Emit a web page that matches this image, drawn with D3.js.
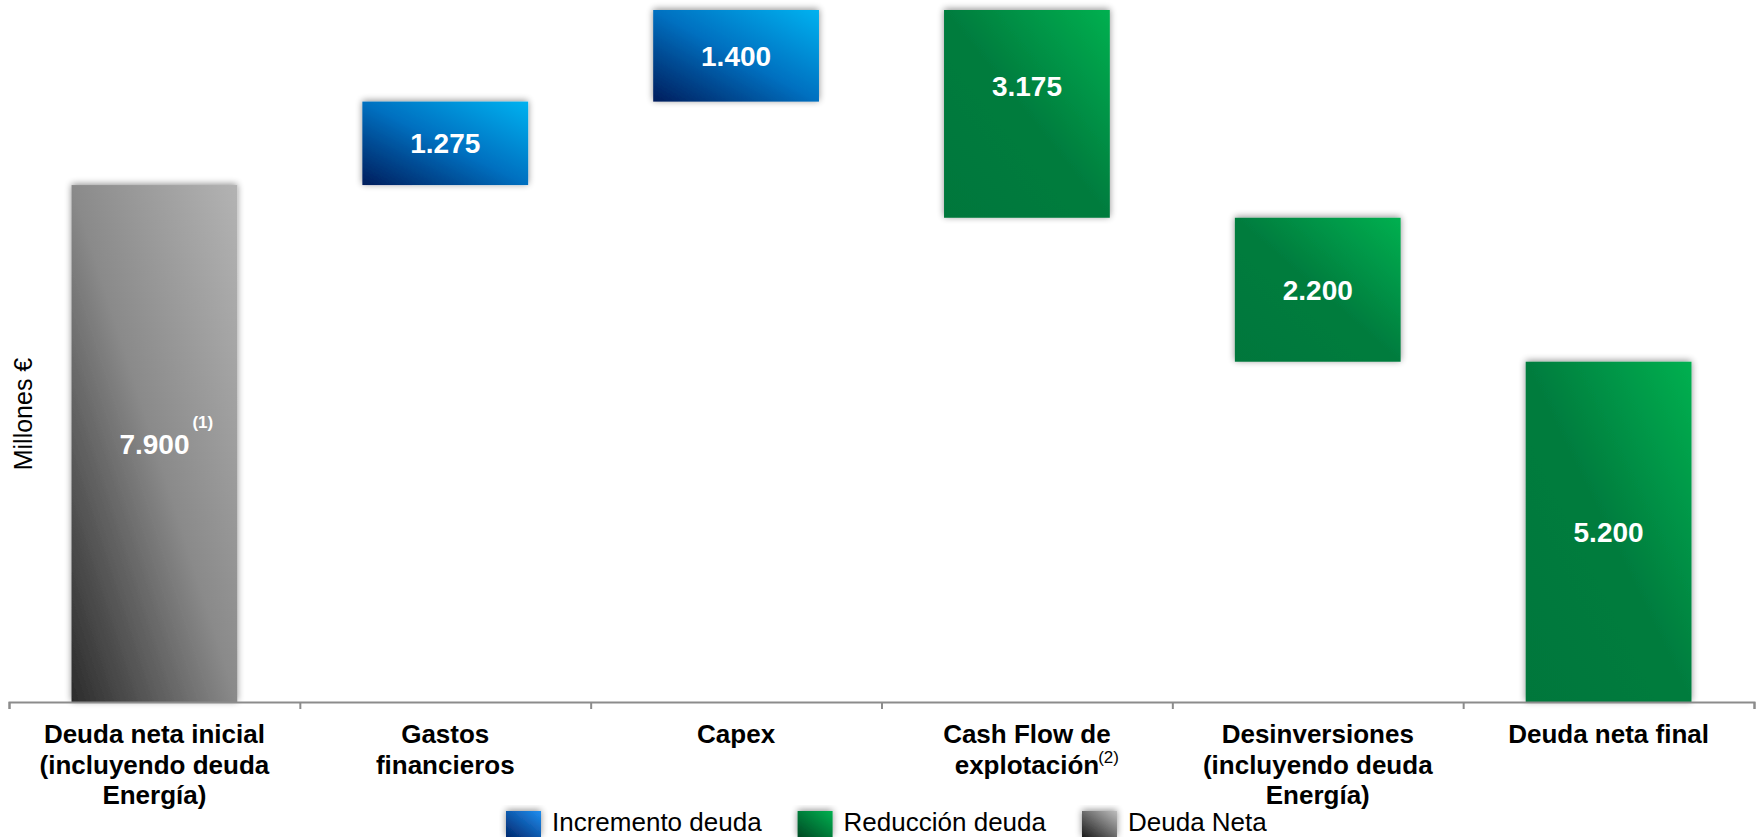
<!DOCTYPE html>
<html>
<head>
<meta charset="utf-8">
<script src="https://cdn.jsdelivr.net/npm/d3@7"></script>
<style>
  body { margin: 0; background: #fff; }
  svg { display: block; font-family: "Liberation Sans", Arial, sans-serif; }
</style>
</head>
<body>
<script>
// waterfall of net debt, millones €
const categories = ["Deuda neta inicial", "Gastos financieros", "Capex",
    "Cash Flow de explotación", "Desinversiones", "Deuda neta final"];
const categoryLines = [
    ["Deuda neta inicial", "(incluyendo deuda", "Energía)"],
    ["Gastos", "financieros"],
    ["Capex"],
    ["Cash Flow de", "explotación"],
    ["Desinversiones", "(incluyendo deuda", "Energía)"],
    ["Deuda neta final"]
];
const values = [7900, 1275, 1400, -3175, -2200, 5200];
const isTotal = [true, false, false, false, false, true];
const series = ["Deuda Neta", "Incremento deuda", "Incremento deuda",
    "Reducción deuda", "Reducción deuda", "Reducción deuda"];
const valueNotes = ["(1)", "", "", "", "", ""];
const labelNotes = ["", "", "", "(2)", "", ""];
const legendItems = ["Incremento deuda", "Reducción deuda", "Deuda Neta"];

const width = 1756;
const height = 837;
const axisY = 702;

const fmt = d3.formatLocale({ decimal: ",", thousands: ".", grouping: [3], currency: ["", "€"] }).format(",d");

// running totals for the floating bars
let running = 0;
const bars = categories.map((c, i) => {
    let lo, hi;
    if (isTotal[i]) {
        lo = 0; hi = values[i]; running = values[i];
    } else {
        const next = running + values[i];
        lo = Math.min(running, next); hi = Math.max(running, next);
        running = next;
    }
    return { cat: c, i, lo, hi, v: values[i], s: series[i] };
});

const x = d3.scaleBand().domain(categories).range([9, 1754]).padding(0);
const y = d3.scaleLinear().domain([0, d3.max(bars, d => d.hi)]).range([axisY, 10]);
const barW = x.bandwidth() * 0.57;

const svg = d3.select("body").append("svg")
    .attr("width", width)
    .attr("height", height);

const defs = svg.append("defs");

const f = defs.append("filter").attr("id", "shadow")
    .attr("x", "-20%").attr("y", "-20%").attr("width", "140%").attr("height", "140%");
f.append("feGaussianBlur").attr("in", "SourceAlpha").attr("stdDeviation", 3.5);
f.append("feOffset").attr("dy", -1);
f.append("feComponentTransfer").call(g => g.append("feFuncA").attr("type", "linear").attr("slope", 0.45));
const fm = f.append("feMerge");
fm.append("feMergeNode");
fm.append("feMergeNode").attr("in", "SourceGraphic");

// gradient ids by series position (names have spaces and accents)
const sIdx = s => legendItems.indexOf(s);
function grad(id, stops) {
    const g = defs.append("linearGradient").attr("id", id)
        .attr("x1", 0).attr("y1", 1).attr("x2", 1).attr("y2", 0);
    stops.forEach(s => g.append("stop").attr("offset", s[0]).attr("stop-color", s[1]));
}
grad("bar0", [[0, "#001d5c"], [0.5, "#0070c0"], [1, "#00b2f0"]]);
grad("bar1", [[0, "#00773b"], [0.5, "#007c3e"], [1, "#00b050"]]);
grad("bar2", [[0, "#2b2b2b"], [0.5, "#8a8a8a"], [1, "#b3b3b3"]]);
grad("key0", [[0, "#00286e"], [1, "#1e8ef0"]]);
grad("key1", [[0, "#004a24"], [1, "#00b050"]]);
grad("key2", [[0, "#1a1a1a"], [1, "#bdbdbd"]]);

// bars
svg.append("g").selectAll("rect").data(bars).join("rect")
    .attr("x", d => x(d.cat) + (x.bandwidth() - barW) / 2)
    .attr("y", d => y(d.hi))
    .attr("width", barW)
    .attr("height", d => y(d.lo) - y(d.hi))
    .attr("fill", d => "url(#bar" + sIdx(d.s) + ")")
    .attr("filter", "url(#shadow)");

// axis along the bottom with ticks between categories
const bounds = d3.scaleLinear().domain([0, categories.length]).range(x.range());
svg.append("g")
    .attr("transform", `translate(0,${axisY})`)
    .call(d3.axisBottom(bounds).ticks(categories.length).tickSize(7).tickSizeOuter(7).tickFormat(""))
    .call(g => g.selectAll("path,line").attr("stroke", "#8c8c8c").attr("stroke-width", 2));

// value labels
const labels = svg.append("g").selectAll("g").data(bars).join("g")
    .attr("transform", d => {
        let cy = y((d.lo + d.hi) / 2);
        if (d.cat === "Cash Flow de explotación") cy -= 28; // sits high in the source
        return `translate(${x(d.cat) + x.bandwidth() / 2},${cy})`;
    });
labels.append("text")
    .attr("text-anchor", "middle")
    .attr("dy", "0.36em")
    .attr("fill", "#fff")
    .attr("font-weight", "bold")
    .attr("font-size", 28)
    .text(d => fmt(Math.abs(d.v)))
    .each(function(d) {
        const note = valueNotes[d.i];
        if (!note) return;
        const w = this.getComputedTextLength();
        d3.select(this.parentNode).append("text")
            .attr("x", w / 2 + 3)
            .attr("y", -16)
            .attr("fill", "#fff")
            .attr("font-weight", "bold")
            .attr("font-size", 17)
            .text(note);
    });

// category labels
const cats = svg.append("g").selectAll("text").data(bars).join("text")
    .attr("text-anchor", "middle")
    .attr("font-weight", "bold")
    .attr("font-size", 26)
    .attr("fill", "#000");
cats.each(function(d) {
    const t = d3.select(this);
    const cx = x(d.cat) + x.bandwidth() / 2;
    categoryLines[d.i].forEach((line, k) => {
        t.append("tspan").attr("x", cx).attr("y", 743 + k * 30.5).text(line);
    });
});
// footnote after the last line of a category label
svg.append("g").selectAll("text").data(bars.filter(d => labelNotes[d.i])).join("text")
    .each(function(d) {
        const lines = categoryLines[d.i];
        const probe = svg.append("text").attr("font-weight", "bold").attr("font-size", 26).text(lines[lines.length - 1]);
        const w = probe.node().getComputedTextLength();
        probe.remove();
        d3.select(this)
            .attr("x", x(d.cat) + x.bandwidth() / 2 + w / 2 - 1)
            .attr("y", 743 + (lines.length - 1) * 30.5 - 11)
            .attr("font-size", 17)
            .attr("fill", "#000")
            .text(labelNotes[d.i]);
    });

// y axis title
svg.append("text")
    .attr("transform", "translate(32,414) rotate(-90)")
    .attr("text-anchor", "middle")
    .attr("font-size", 25)
    .attr("fill", "#000")
    .text("Millones €");

// legend
const legend = svg.append("g");
let lx = 506;
legendItems.forEach((name, k) => {
    legend.append("rect")
        .attr("x", lx).attr("y", 811).attr("width", 35).attr("height", 26)
        .attr("fill", "url(#key" + k + ")")
        .attr("filter", "url(#shadow)");
    const t = legend.append("text")
        .attr("x", lx + 46).attr("y", 831)
        .attr("font-size", 26)
        .attr("fill", "#000")
        .text(name);
    lx += 46 + t.node().getComputedTextLength() + 36;
});
</script>
</body>
</html>
